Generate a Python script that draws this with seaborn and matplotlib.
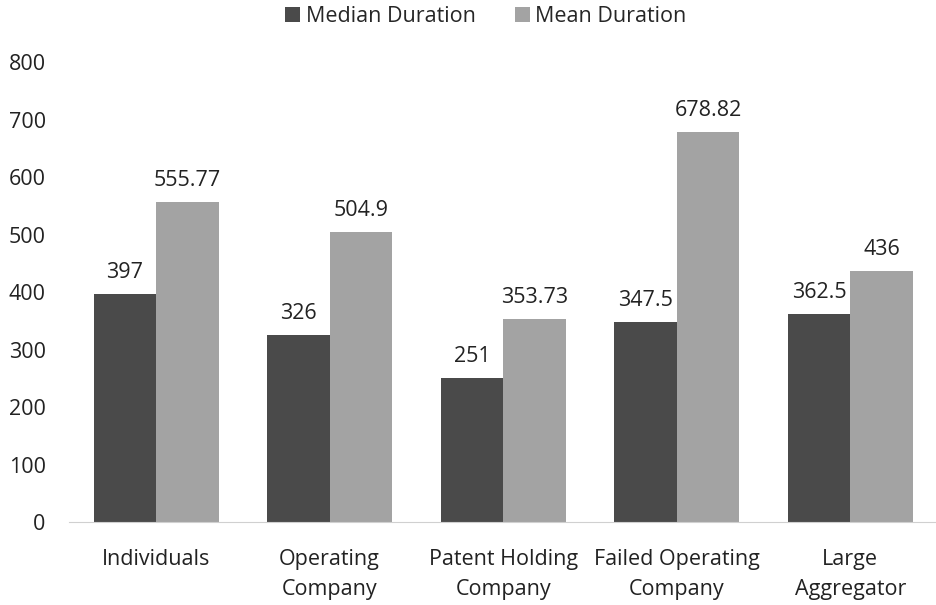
import matplotlib.pyplot as plt
import pandas as pd
import seaborn as sns

categories = ['Individuals', 'Operating\nCompany', 'Patent Holding\nCompany',
              'Failed Operating\nCompany', 'Large\nAggregator']
median_duration = [397, 326, 251, 347.5, 362.5]
mean_duration = [555.77, 504.9, 353.73, 678.82, 436]
series = ['Median Duration', 'Mean Duration']
colors = ['#4a4a4a', '#a3a3a3']

df = pd.DataFrame({
    'Category': categories * 2,
    'Series': [series[0]] * len(categories) + [series[1]] * len(categories),
    'Duration': median_duration + mean_duration,
})

sns.set_style('white')
plt.rcParams['font.family'] = ['Open Sans', 'DejaVu Sans']

fig = plt.figure(figsize=(9.37, 6.05), dpi=100)
ax = fig.add_axes([0.074, 0.137, 0.926, 0.7605])

sns.barplot(data=df, x='Category', y='Duration', hue='Series', order=categories,
            hue_order=series, palette=colors, width=0.72, saturation=1,
            edgecolor='none', ax=ax)

for container in ax.containers:
    ax.bar_label(container, fmt='%g', padding=8, fontsize=15.5, color='#222222')

ax.set_ylim(0, 800)
ax.set_yticks(range(0, 801, 100))
ax.set_xlim(-0.5, 4.5)
ax.set_xlabel('')
ax.set_ylabel('')
ax.tick_params(axis='both', labelsize=15.5, colors='#222222', length=0)
ax.tick_params(axis='x', pad=19)
ax.tick_params(axis='y', pad=17)
for lbl in ax.get_xticklabels():
    lbl.set_linespacing(1.6)
for s in ['top', 'right', 'left']:
    ax.spines[s].set_visible(False)
ax.spines['bottom'].set_color('#d0d0d0')

leg = ax.legend(loc='center', bbox_to_anchor=(0.48, 1.098), ncol=2, frameon=False,
                fontsize=15.5, handlelength=0.7, handleheight=0.7, handletextpad=0.25,
                columnspacing=1.8)

fig.savefig('out.png', dpi=100)
